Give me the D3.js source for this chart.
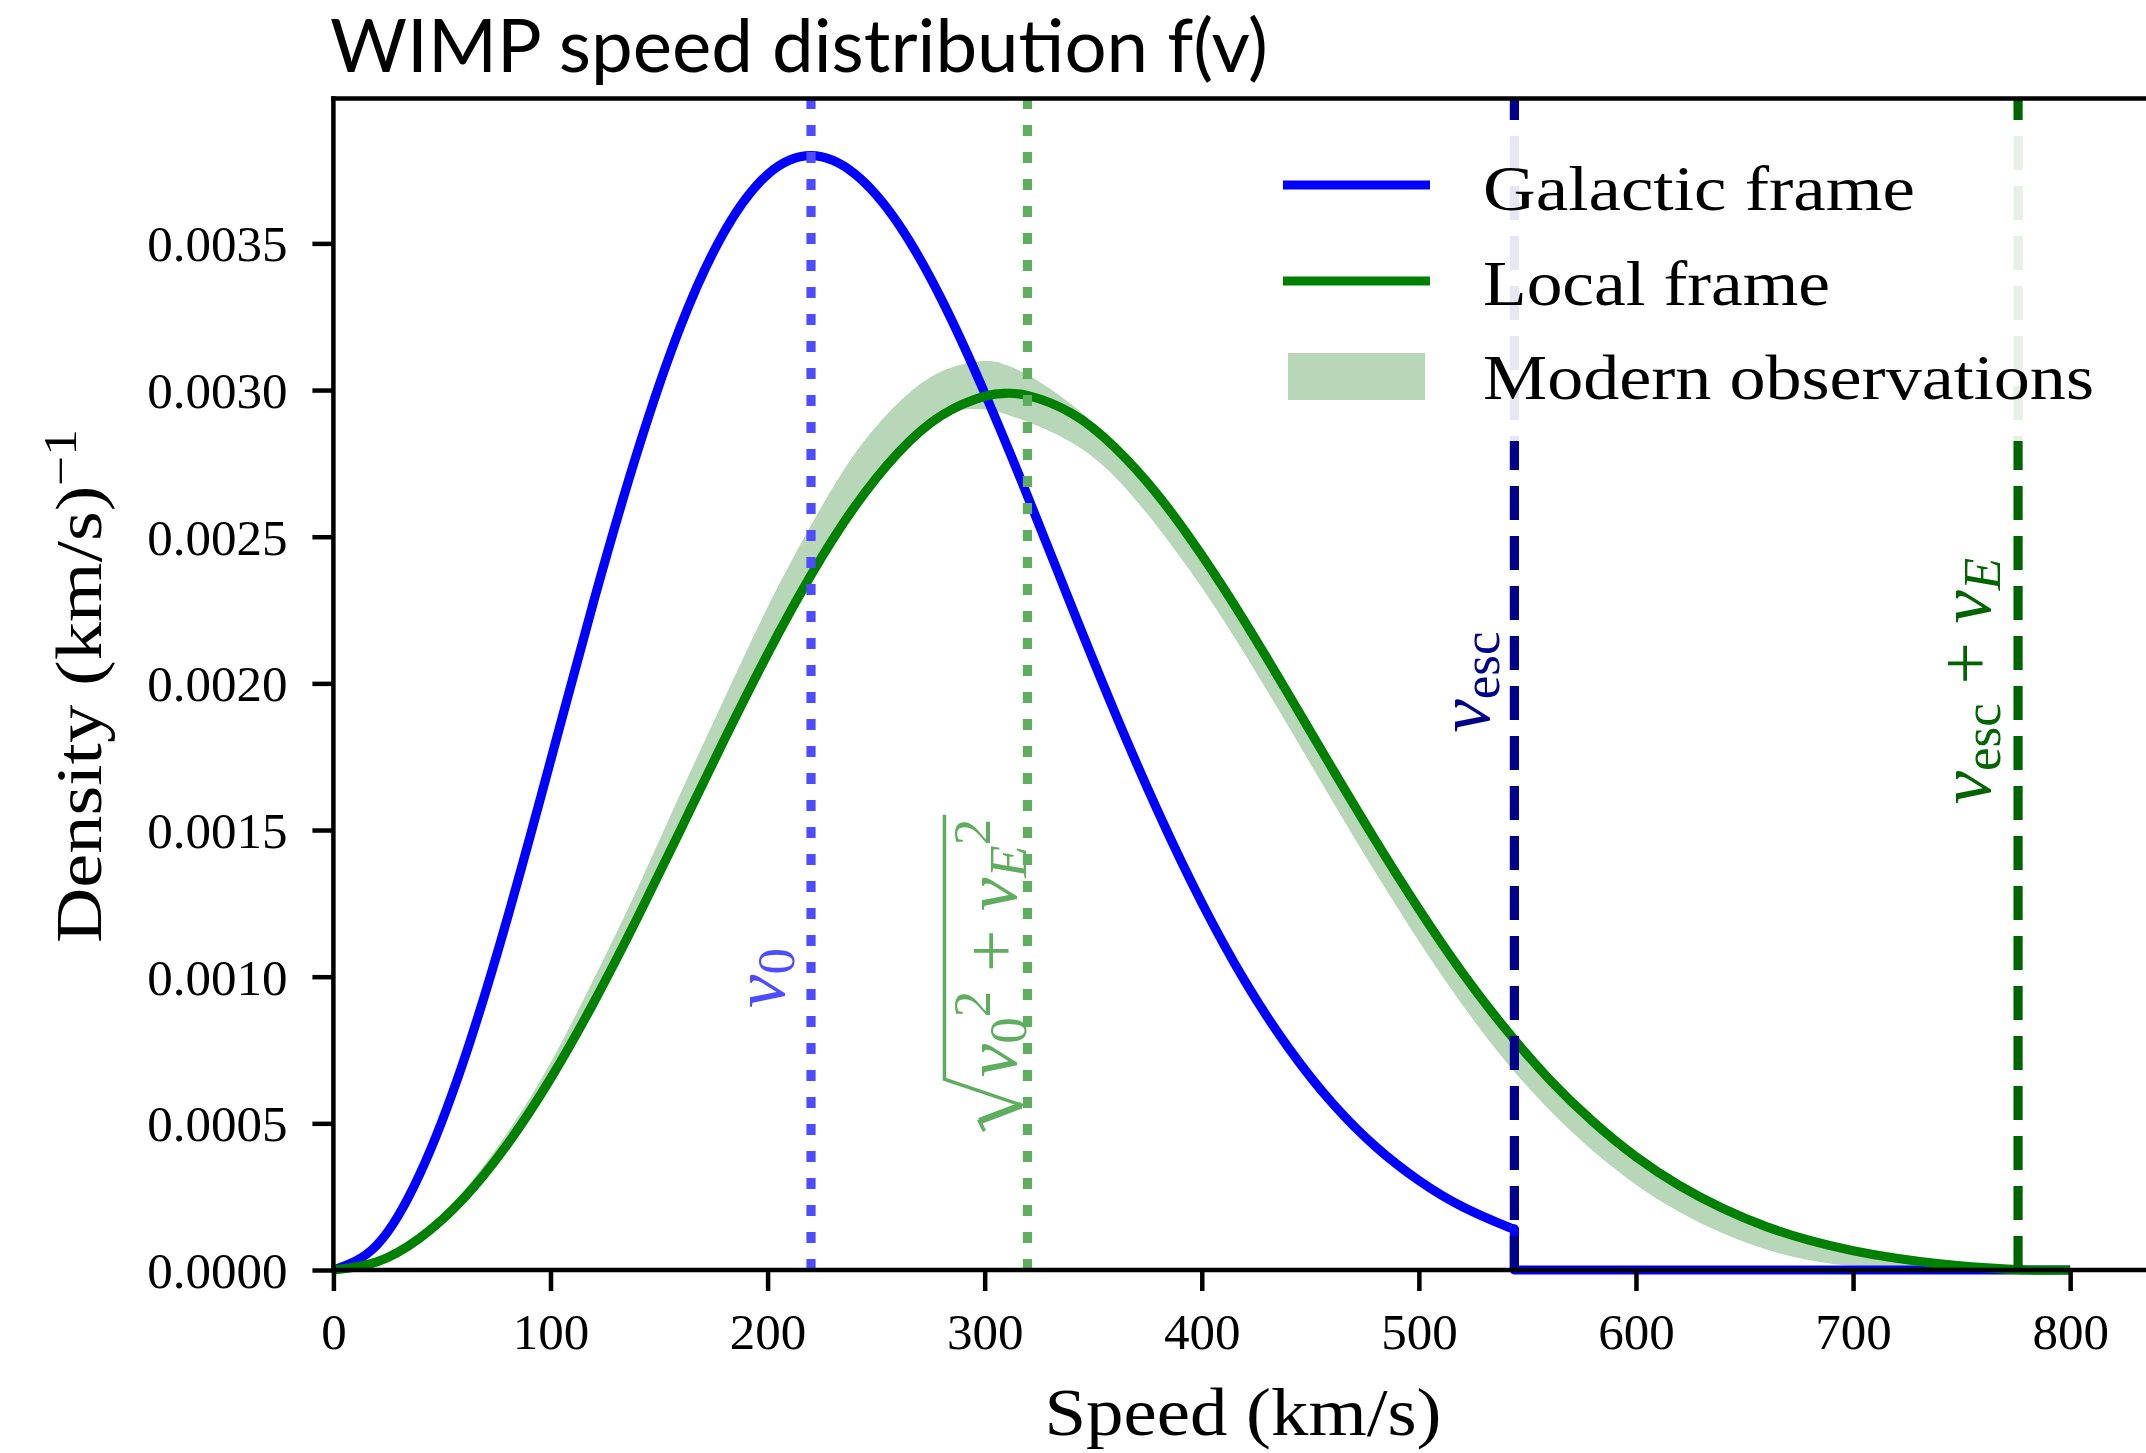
<!DOCTYPE html>
<html><head><meta charset="utf-8">
<script src="https://cdn.jsdelivr.net/npm/d3@7"></script>
<style>html,body{margin:0;padding:0;background:#fff;overflow:hidden}text{white-space:pre}</style>
</head><body>
<svg id="chart" width="2146" height="1453"></svg>
<script>
// ---------------- data ----------------
const galSpeeds = [0,20,40,60,80,100,120,140,160,180,200,220,240,260,280,300,320,340,360,380,400,420,440,460,480,500,520,540,544];
const galactic  = [0,0.0000846,0.000330,0.000713,0.001196,0.001735,0.002282,0.002789,0.003219,0.003539,0.003735,0.003799,0.003738,0.003569,0.003311,0.002990,0.002634,0.002263,0.001900,0.001560,0.001252,0.000983,0.000757,0.000570,0.000421,0.000305,0.000216,0.000150,0.000140];
const escSpeeds = [544,544,800];
const escValues = [0.000140,0,0];

const speeds = [0,20,40,60,80,100,120,140,160,180,200,220,240,260,280,300,310,320,340,360,380,400,420,440,460,480,500,520,540,560,580,600,620,640,660,680,700,720,740,760,780,800];
const localFrame = [0,0.0000276,0.000110,0.000244,0.000427,0.000652,0.000913,0.001200,0.001502,0.001807,0.002100,0.002369,0.002601,0.002785,0.002913,0.002979,0.002989,0.002981,0.002921,0.002804,0.002640,0.002437,0.002208,0.001962,0.001711,0.001465,0.001231,0.001014,0.000821,0.000651,0.000507,0.000386,0.000288,0.000210,0.000148,0.000101,0.000066,0.000040,0.000021,0.000008,0,0];
const bandHigh = [0,0.000034,0.000125,0.000270,0.000467,0.000707,0.000993,0.001300,0.001627,0.001947,0.002260,0.002539,0.002781,0.002955,0.003063,0.003099,0.003085,0.003051,0.002951,0.002814,0.002640,0.002437,0.002208,0.001962,0.001711,0.001465,0.001231,0.001014,0.000821,0.000651,0.000507,0.000386,0.000288,0.000210,0.000148,0.000101,0.000066,0.000040,0.000021,0.000008,0,0];
const bandLow  = [0,0.0000276,0.000110,0.000244,0.000427,0.000652,0.000913,0.001200,0.001502,0.001807,0.002100,0.002369,0.002601,0.002785,0.002913,0.002934,0.002917,0.002891,0.002821,0.002704,0.002530,0.002327,0.002098,0.001852,0.001601,0.001355,0.001121,0.000904,0.000711,0.000546,0.000407,0.000291,0.000198,0.000125,0.000070,0.000033,0.000013,0.000003,0,0,0,0];

const markerNames  = ["v0","sqrt","vesc","vescE"];
const markerSpeeds = [220, 319.7, 544, 776];
const xTicks = [0,100,200,300,400,500,600,700,800];
const yTicks = [0,0.0005,0.0010,0.0015,0.0020,0.0025,0.0030,0.0035];
const legendLabels = ["Galactic frame","Local frame","Modern observations"];

// ---------------- setup ----------------
const SERIF = "'Liberation Serif','Times New Roman',serif";
const svg = d3.select("#chart");
const x = d3.scaleLinear().domain([0, 840]).range([333.4, 2157]);
const y = d3.scaleLinear().domain([0, 0.003994]).range([1270, 98.5]);

const C = {blue:"#0000ff", green:"#008000", band:"#b8d6b8", v0:"#4d4dff", sq:"#5fae5f", esc:"#00008b", escE:"#006400"};
const LW = 9.2;
const CURVE = d3.curveNatural;

// band
const band = d3.area().curve(CURVE)
  .x(d=>x(d[0])).y0(d=>Math.min(y(d[1]), y(0))).y1(d=>y(d[2]));
svg.append("path").attr("d", band(d3.zip(speeds, bandLow, bandHigh)))
  .attr("fill", C.band).attr("stroke","none");

// galactic (blue)
const smooth = d3.line().curve(CURVE).x(d=>x(d[0])).y(d=>y(d[1]));
const straight = d3.line().x(d=>x(d[0])).y(d=>y(d[1]));
const bluePath = smooth(d3.zip(galSpeeds, galactic)) + straight(d3.zip(escSpeeds, escValues)).replace(/^M/, "L");
svg.append("path").attr("d", bluePath).attr("fill","none").attr("stroke",C.blue)
  .attr("stroke-width",LW).attr("stroke-linejoin","round");

// local (green)
svg.append("path").attr("d", smooth(d3.zip(speeds, localFrame))).attr("fill","none")
  .attr("stroke",C.green).attr("stroke-width",LW).attr("stroke-linejoin","round");

// vertical markers
const markerStyle = {
  v0:   {c:C.v0,  dash:"11,16"},
  sqrt: {c:C.sq,  dash:"11,16"},
  vesc: {c:C.esc, dash:"34,16"},
  vescE:{c:C.escE,dash:"34,16"}
};
markerNames.forEach((n,i)=>{
  svg.append("line").attr("x1",x(markerSpeeds[i])).attr("x2",x(markerSpeeds[i]))
    .attr("y1",y(0)).attr("y2",y.range()[1])
    .attr("stroke",markerStyle[n].c).attr("stroke-width",LW).attr("stroke-dasharray",markerStyle[n].dash);
});

// math labels (rotated)
const MS = 75, SS = 53;
function mathLabel(bx, cy, parts, color){
  const g = svg.append("g").attr("transform",`translate(${bx},${cy}) rotate(-90)`);
  const t = g.append("text").attr("text-anchor","middle").attr("fill",color).style("font-family",SERIF);
  parts.forEach(p=>t.append("tspan").text(p.t).attr("font-size",p.s||MS)
    .attr("font-style",p.i?"italic":"normal").attr("dy",p.dy||0));
  return g;
}
mathLabel(x(markerSpeeds[0]) - 27, 978, [{t:"v",i:1},{t:"0",s:SS,dy:10}], C.v0);
mathLabel(x(markerSpeeds[2]) - 25, 682, [{t:"v",i:1},{t:"esc",s:SS,dy:10}], C.esc);
mathLabel(x(markerSpeeds[3]) - 28, 681, [{t:"v",i:1},{t:"esc",s:SS,dy:10},{t:" + ",dy:-10},{t:"v",i:1},{t:"E",i:1,s:SS,dy:10}], C.escE);

// sqrt label
(function(){
  const g = svg.append("g").attr("transform",`translate(${x(markerSpeeds[1]) - 11},975) rotate(-90)`);
  const t = g.append("text").attr("fill",C.sq).style("font-family",SERIF);
  const parts = [{t:"v",i:1},{t:"0",s:SS,dy:10},{t:"2",s:SS,dy:-36},{t:" + ",dy:26},{t:"v",i:1},{t:"E",i:1,s:SS,dy:10},{t:"2",s:SS,dy:-36}];
  parts.forEach(p=>t.append("tspan").text(p.t).attr("font-size",p.s||MS)
    .attr("font-style",p.i?"italic":"normal").attr("dy",p.dy||0));
  const w = t.node().getComputedTextLength();
  const R = 54;
  const x0 = -(R + w)/2, cs = x0 + R;
  t.attr("x", cs);
  g.append("path").attr("d",`M${x0},-32 L${x0+10},-37 L${x0+26},5 L${x0+R-2},-72 L${cs+w+4},-72`)
    .attr("fill","none").attr("stroke",C.sq).attr("stroke-width",3.5).attr("stroke-linejoin","miter");
  g.append("path").attr("d",`M${x0+10},-37 L${x0+26},5`).attr("stroke",C.sq).attr("stroke-width",6.5);
})();

// axes
const xAxis = d3.axisBottom(x).tickValues(xTicks).tickSize(21).tickFormat(d3.format("d"));
const gx = svg.append("g").attr("transform",`translate(0,${y(0)})`).call(xAxis);
gx.select(".domain").remove();
gx.selectAll("line").attr("stroke","#000").attr("stroke-width",4.5);
gx.selectAll("text").attr("y",79).attr("dy",0).attr("fill","#000")
  .style("font-family",SERIF).style("font-size","51px");

const yAxis = d3.axisLeft(y).tickValues(yTicks).tickSize(21).tickFormat(d3.format(".4f"));
const gy = svg.append("g").attr("transform",`translate(${x(0)},0)`).call(yAxis);
gy.select(".domain").remove();
gy.selectAll("line").attr("stroke","#000").attr("stroke-width",4.5);
gy.selectAll("text").attr("x",-46).attr("dy","0.34em").attr("fill","#000")
  .style("font-family",SERIF).style("font-size","51px");

// spines
const sp = svg.append("g").attr("stroke","#000").attr("stroke-width",4.5).attr("stroke-linecap","square");
sp.append("line").attr("x1",x(0)).attr("x2",x(0)).attr("y1",y.range()[1]).attr("y2",y(0));
sp.append("line").attr("x1",x(0)).attr("x2",x.range()[1]).attr("y1",y(0)).attr("y2",y(0));
sp.append("line").attr("x1",x(0)).attr("x2",x.range()[1]).attr("y1",y.range()[1]).attr("y2",y.range()[1]);

// legend
const lg = svg.append("g");
lg.append("rect").attr("x",1259).attr("y",121).attr("width",862).attr("height",320)
  .attr("fill","#fff").attr("opacity",0.9);
lg.append("line").attr("x1",1283).attr("x2",1430).attr("y1",185).attr("y2",185).attr("stroke",C.blue).attr("stroke-width",LW);
lg.append("line").attr("x1",1283).attr("x2",1430).attr("y1",281).attr("y2",281).attr("stroke",C.green).attr("stroke-width",LW);
lg.append("rect").attr("x",1288).attr("y",353).attr("width",137).attr("height",47).attr("fill",C.band);
const legW = [432, 347, 611], legY = [210, 305, 399];
legendLabels.forEach((s,i)=>{
  lg.append("text").attr("x",1483).attr("y",legY[i]).text(s)
    .attr("textLength",legW[i]).attr("lengthAdjust","spacingAndGlyphs")
    .style("font-family",SERIF).style("font-size","64px").attr("fill","#000");
});

// title and axis labels
svg.append("text").attr("x",330).attr("y",72).text("WIMP speed distribution f(v)")
  .attr("textLength",938).attr("lengthAdjust","spacingAndGlyphs")
  .style("font-family","Lato, 'Open Sans', sans-serif").style("font-size","74px").attr("fill","#000");

svg.append("text").attr("x",1243).attr("y",1435).attr("text-anchor","middle").text("Speed (km/s)")
  .attr("textLength",397).attr("lengthAdjust","spacingAndGlyphs")
  .style("font-family",SERIF).style("font-size","67px").attr("fill","#000");

const yl = svg.append("g").attr("transform","translate(101,686) rotate(-90)")
  .append("text").attr("text-anchor","middle").attr("textLength",514).attr("lengthAdjust","spacingAndGlyphs")
  .style("font-family",SERIF).attr("fill","#000");
yl.append("tspan").text("Density (km/s)").attr("font-size",66);
yl.append("tspan").text("\u22121").attr("font-size",46).attr("dy",-25);
</script>
</body></html>
